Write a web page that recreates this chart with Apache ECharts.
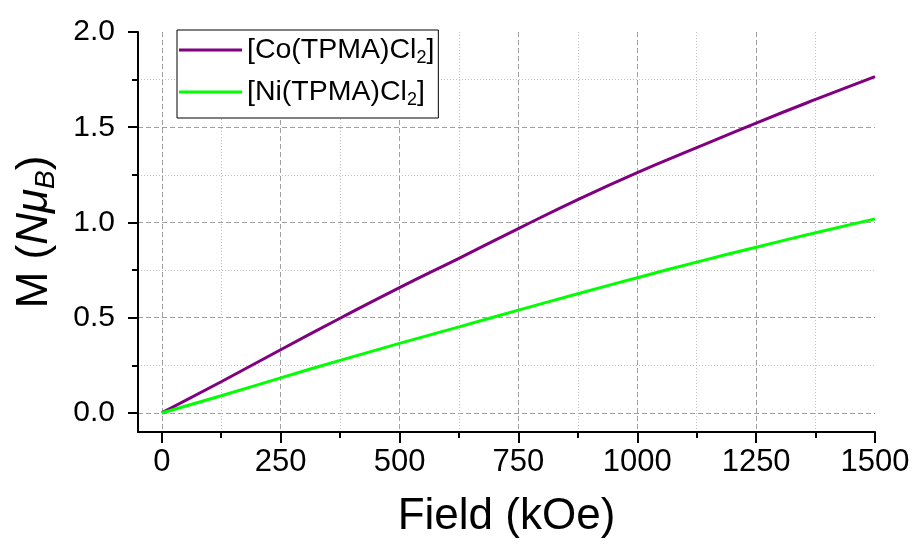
<!DOCTYPE html>
<html>
<head>
<meta charset="utf-8">
<script src="https://cdn.jsdelivr.net/npm/echarts@6/dist/echarts.min.js"></script>
<style>html,body{margin:0;padding:0;background:#fff}#c{width:915px;height:547px}</style>
</head>
<body>
<div id="c"></div>
<script>
// ---- data ----
const fieldKOe = [0, 125, 250, 375, 500, 625, 750, 875, 1000, 1125, 1250, 1375, 1500];
const coValues = [0, 0.164, 0.332, 0.497, 0.658, 0.812, 0.968, 1.120, 1.262, 1.393, 1.522, 1.646, 1.766];
const niValues = [0, 0.090, 0.184, 0.276, 0.365, 0.452, 0.540, 0.626, 0.710, 0.792, 0.870, 0.946, 1.019];
const seriesNames = ['[Co(TPMA)Cl₂]', '[Ni(TPMA)Cl₂]'];
const xMajorTicks = [0, 250, 500, 750, 1000, 1250, 1500];
const xMinorTicks = [125, 375, 625, 875, 1125, 1375];
const xGridMajor = [0, 250, 500, 750, 1000, 1250];
const yMajorTicks = [0, 0.5, 1.0, 1.5, 2.0];
const yMinorTicks = [0.25, 0.75, 1.25, 1.75];
const yGridMajor = [0, 0.5, 1.0, 1.5];

const FONT = 'Liberation Sans, Arial, sans-serif';
const X_MIN = -50, X_MAX = 1500, Y_MIN = -0.1, Y_MAX = 2.0;

function baseAxis(type, extra) {
  const isX = type === 'x';
  return Object.assign({
    type: 'value',
    min: isX ? X_MIN : Y_MIN,
    max: isX ? X_MAX : Y_MAX,
    position: isX ? 'bottom' : 'left',
    axisLine: { show: false, onZero: false },
    axisTick: { show: false },
    axisLabel: { show: false },
    splitLine: { show: false },
    minorTick: { show: false },
    minorSplitLine: { show: false }
  }, extra);
}
const dashed = { show: true, lineStyle: { color: '#a0a0a0', width: 1, type: [5, 3] } };
const dotted = { show: true, lineStyle: { color: '#c0c0c0', width: 1, type: [1, 2] } };

const chart = echarts.init(document.getElementById('c'), null, { renderer: 'canvas' });
chart.setOption({
  backgroundColor: '#fff',
  animation: false,
  grid: { left: 138, top: 32, right: 40, bottom: 115, containLabel: false, outerBoundsMode: 'none' },
  legend: {
    left: 177, top: 30,
    orient: 'vertical',
    padding: [3, 4, 9, 2],
    itemGap: 8,
    icon: 'rect',
    itemWidth: 63, itemHeight: 3,
    borderColor: '#000', borderWidth: 1, borderRadius: 0,
    backgroundColor: '#fff',
    data: seriesNames,
    formatter: n => n.replace('₂', '{s|2}'),
    textStyle: {
      fontFamily: FONT, fontSize: 28.5, color: '#000', lineHeight: 34,
      rich: {
        s: { fontFamily: FONT, fontSize: 18, lineHeight: 18, verticalAlign: 'bottom', color: '#000' }
      }
    }
  },
  xAxis: [
    baseAxis('x', {
      name: 'Field (kOe)', nameLocation: 'middle', nameGap: 63,
      nameTextStyle: { fontFamily: FONT, fontSize: 44, color: '#000' },
      axisLine: { show: true, onZero: false, lineStyle: { color: '#000', width: 2 } },
      axisTick: { show: true, length: 11, customValues: xMajorTicks, lineStyle: { color: '#000', width: 2 } },
      axisLabel: { show: true, customValues: xMajorTicks, margin: 15, fontFamily: FONT, fontSize: 31, color: '#000',
        formatter: v => String(v) }
    }),
    baseAxis('x', {
      axisTick: { show: true, length: 6, customValues: xMinorTicks, lineStyle: { color: '#000', width: 2 } },
      splitLine: dotted
    }),
    baseAxis('x', {
      axisTick: { show: false, customValues: xGridMajor },
      splitLine: dashed
    })
  ],
  yAxis: [
    baseAxis('y', {
      name: '{n|M (}{i|Nμ}{b|B}{n|)}', nameLocation: 'middle', nameGap: 78, nameRotate: 90,
      nameTextStyle: {
        fontFamily: FONT, fontSize: 44, color: '#000',
        rich: {
          n: { fontFamily: FONT, fontSize: 44, lineHeight: 50, color: '#000' },
          i: { fontFamily: FONT, fontSize: 44, lineHeight: 50, fontStyle: 'italic', color: '#000' },
          b: { fontFamily: FONT, fontSize: 28, lineHeight: 28, fontStyle: 'italic', verticalAlign: 'bottom', color: '#000' }
        }
      },
      axisLine: { show: true, onZero: false, lineStyle: { color: '#000', width: 2 } },
      axisTick: { show: true, length: 10, customValues: yMajorTicks, lineStyle: { color: '#000', width: 2 } },
      axisLabel: { show: true, customValues: yMajorTicks, margin: 23, fontFamily: FONT, fontSize: 30, color: '#000',
        formatter: v => Number(v).toFixed(1) }
    }),
    baseAxis('y', {
      axisTick: { show: true, length: 6, customValues: yMinorTicks, lineStyle: { color: '#000', width: 2 } },
      splitLine: dotted
    }),
    baseAxis('y', {
      axisTick: { show: false, customValues: yGridMajor },
      splitLine: dashed
    })
  ],
  series: [
    {
      name: seriesNames[0], type: 'line', xAxisIndex: 0, yAxisIndex: 0,
      data: fieldKOe.map((x, i) => [x, coValues[i]]),
      smooth: 0.5, symbol: 'none', showSymbol: false,
      lineStyle: { color: '#800080', width: 3 }, itemStyle: { color: '#800080' }, z: 5
    },
    {
      name: seriesNames[1], type: 'line', xAxisIndex: 0, yAxisIndex: 0,
      data: fieldKOe.map((x, i) => [x, niValues[i]]),
      smooth: 0.5, symbol: 'none', showSymbol: false,
      lineStyle: { color: '#00ff00', width: 3 }, itemStyle: { color: '#00ff00' }, z: 5
    }
  ]
});
</script>
</body>
</html>
